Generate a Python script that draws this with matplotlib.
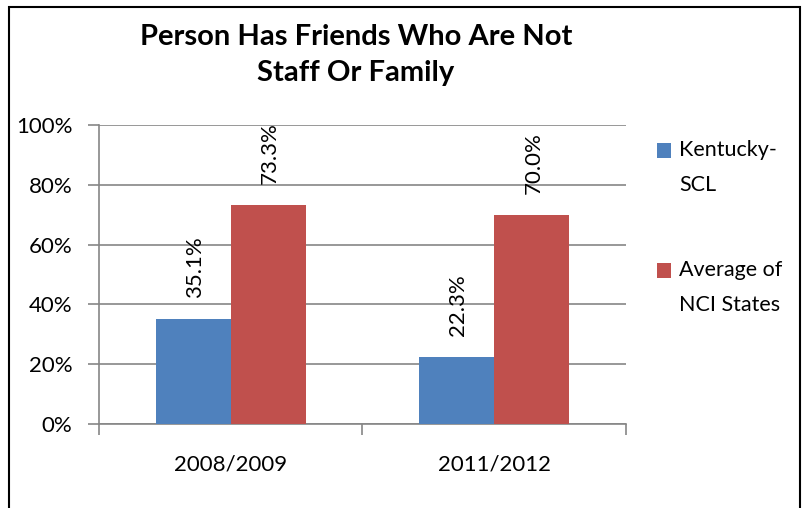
import matplotlib.pyplot as plt
import numpy as np
from matplotlib.patches import Rectangle

plt.rcParams['font.family'] = ['Lato', 'DejaVu Sans']

periods = ['2008/2009', '2011/2012']
kentucky = [35.1, 22.3]
nci_avg = [73.3, 70.0]
series_names = ['Kentucky-\nSCL', 'Average of\nNCI States']
colors = ['#4F81BD', '#C0504D']

fig = plt.figure(figsize=(8.03, 5.08), dpi=100)
# outer chart border
fig.patches.append(Rectangle((9/803, -0.1), (800-9)/803, 1.1 - 7/508, transform=fig.transFigure,
                             fill=False, edgecolor='black', linewidth=1.5))

ax = fig.add_axes([99/803, 1-424/508, (626-99)/803, (424-125)/508])
x = np.arange(len(periods))
w = 0.285
bars1 = ax.bar(x - w/2, kentucky, w, color=colors[0], zorder=3)
bars2 = ax.bar(x + w/2, nci_avg, w, color=colors[1], zorder=3)

for bars, vals in [(bars1, kentucky), (bars2, nci_avg)]:
    for b, v in zip(bars, vals):
        ax.text(b.get_x() + b.get_width()/2 + 0.006, v + 7, f'{v:.1f}%', rotation=90,
                ha='center', va='bottom', fontsize=16)

ax.set_ylim(0, 100)
ax.set_xlim(-0.5, 1.5)
ax.set_yticks(range(0, 101, 20))
ax.set_yticklabels([f'{t}%' for t in range(0, 101, 20)], fontsize=16)
ax.yaxis.grid(True, color='#868686', linewidth=1.2, zorder=0)
ax.set_xticks([-0.5, 0.5, 1.5])
ax.set_xticklabels([])
ax.set_xticks(x, minor=True)
ax.set_xticklabels(periods, minor=True, fontsize=16)
ax.tick_params(axis='x', which='minor', length=0, pad=22)
ax.tick_params(axis='x', which='major', length=8, color='#868686', width=1.2)
ax.tick_params(axis='y', length=8, color='#868686', width=1.2, pad=11)
for s in ['top', 'right']:
    ax.spines[s].set_visible(False)
ax.spines['left'].set_color('#868686')
ax.spines['bottom'].set_color('#868686')
ax.spines['left'].set_linewidth(1.2)
ax.spines['bottom'].set_linewidth(1.2)

fig.text(356/803, 1-55/508, 'Person Has Friends Who Are Not\nStaff Or Family', ha='center', va='center',
         fontsize=21, fontweight='bold', linespacing=1.5)

# legend: square aligned with the first line of each wrapped label
for i, (name, c) in enumerate(zip(series_names, colors)):
    y0 = 150 + 120 * i
    fig.patches.append(Rectangle((657/803, 1 - (y0 + 7.5)/508), 14/803, 15/508,
                                 transform=fig.transFigure, facecolor=c, edgecolor='none'))
    for j, line in enumerate(name.split('\n')):
        fig.text(679/803, 1 - (y0 + 35 * j)/508, line, ha='left', va='center', fontsize=15.5)

fig.savefig('out.png', dpi=100)
